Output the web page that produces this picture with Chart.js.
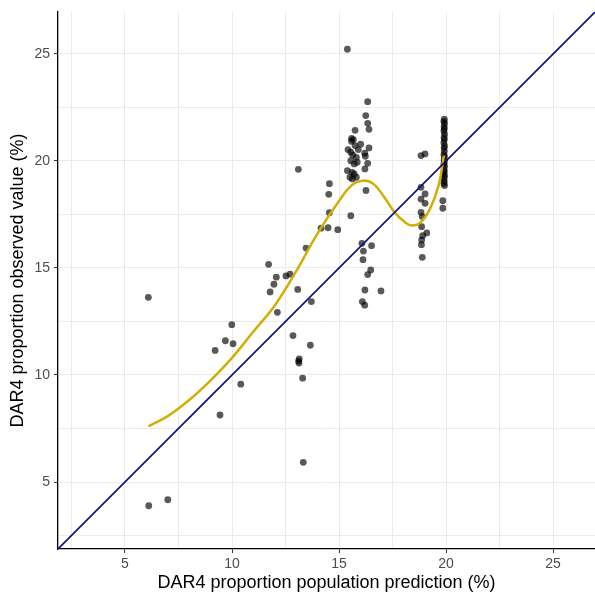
<!DOCTYPE html>
<html>
<head>
<meta charset="utf-8">
<script src="https://cdn.jsdelivr.net/npm/chart.js@4.4.1/dist/chart.umd.min.js"></script>
<style>
  html, body { margin: 0; padding: 0; background: #fff; overflow: hidden; }
  canvas { display: block; }
</style>
</head>
<body>
<canvas id="chart" width="595" height="601"></canvas>
<script>
// Valores: predicción poblacional (x) vs valor observado (y)
const predX = [
  6.09, 6.11, 7.00, 9.21, 9.44, 9.69, 9.99, 10.05, 10.41,
  11.71, 11.78, 11.96, 12.07, 12.12, 12.52, 12.71, 12.85, 13.07, 13.10,
  13.11, 13.13, 13.14, 13.30, 13.33, 13.46, 13.66, 13.71,
  14.16, 14.49, 14.52, 14.55, 14.55, 14.94,
  15.39, 15.39, 15.42, 15.51, 15.55, 15.55, 15.55, 15.58, 15.59, 15.61,
  15.62, 15.64, 15.67, 15.71, 15.71, 15.75, 15.75, 15.81, 15.81, 15.85, 15.90,
  16.01, 16.07, 16.09, 16.12, 16.14, 16.20, 16.20, 16.21, 16.21, 16.23,
  16.25, 16.26, 16.34, 16.34, 16.34, 16.34, 16.40, 16.40, 16.48, 16.52, 16.96,
  18.83, 19.02, 18.83, 19.02, 18.83, 19.02, 18.83, 18.89, 18.86, 19.10,
  18.91, 18.86, 18.85, 18.89,
  19.92, 19.90, 19.93, 19.91, 19.92, 19.90, 19.93, 19.91, 19.92, 19.90,
  19.93, 19.91, 19.92, 19.90, 19.93, 19.91, 19.92, 19.90, 19.93, 19.91,
  19.92, 19.90, 19.93, 19.91, 19.92, 19.90, 19.93, 19.85, 19.85
];
const obsY = [
  13.63, 3.89, 4.17, 11.15, 8.13, 11.60, 12.35, 11.46, 9.57,
  15.17, 13.88, 14.24, 14.57, 12.93, 14.63, 14.71, 11.84, 14.00, 19.61,
  10.65, 10.56, 10.75, 9.85, 5.92, 15.93, 11.39, 13.43,
  16.86, 16.88, 18.44, 18.94, 17.58, 16.79,
  25.22, 19.55, 20.53, 19.24, 20.41, 20.01, 17.44, 20.92, 21.06, 19.47,
  19.16, 20.28, 21.00, 19.86, 19.39, 21.43, 20.72, 20.17, 19.24, 19.94, 20.53,
  20.78, 16.15, 13.43, 15.39, 15.79, 20.36, 13.26, 19.63, 13.97, 20.22,
  22.12, 18.62, 22.77, 21.76, 19.89, 14.69, 21.48, 20.61, 14.91, 16.04, 13.93,
  20.25, 20.33, 18.77, 18.46, 18.22, 18.02, 17.60, 17.40, 16.93, 16.64,
  16.51, 16.31, 16.09, 15.50,
  21.95, 21.85, 21.75, 21.60, 21.50, 21.40, 21.25, 21.10, 21.00, 20.85,
  20.70, 20.60, 20.45, 20.30, 20.20, 20.05, 19.95, 19.85, 19.75, 19.60,
  19.50, 19.40, 19.30, 19.20, 19.05, 18.95, 18.85, 18.14, 17.79
];

// Curva suavizada (loess)
const loessX = [6.1, 7.0, 8.0, 9.0, 10.0, 11.0, 12.0, 13.0, 14.0, 15.0, 15.6, 16.1,
  16.6, 17.1, 17.6, 18.1, 18.4, 18.8, 19.25, 19.65, 19.9];
const loessY = [7.6, 8.08, 8.83, 9.75, 10.8, 12.03, 13.25, 14.85, 16.62, 18.13, 18.87, 19.08,
  18.93, 18.33, 17.6, 17.12, 16.98, 17.12, 17.76, 18.85, 20.25];

// Línea identidad y = x, límites de los ejes y ticks
const axisLimits = [1.87, 26.96];
const tickValues = [2.5, 5, 7.5, 10, 12.5, 15, 17.5, 20, 22.5, 25];
const tickLabels = ['', '5', '', '10', '', '15', '', '20', '', '25'];

const points = predX.map((x, i) => ({ x: x, y: obsY[i] }));
const loess = loessX.map((x, i) => ({ x: x, y: loessY[i] }));
const identity = axisLimits.map(v => ({ x: v, y: v }));

function isMajor(v) { return tickLabels[tickValues.indexOf(v)] !== ''; }

function axis(title, isY) {
  return {
    type: 'linear',
    min: axisLimits[0],
    max: axisLimits[1],
    afterBuildTicks: scale => { scale.ticks = tickValues.map(v => ({ value: v })); },
    afterFit: scale => {
      // anchos fijos para que el área del gráfico coincida con la original
      if (isY) { scale.width = 58; scale.paddingTop = 0; scale.paddingBottom = 0; }
      else { scale.height = 52; scale.paddingLeft = 0; scale.paddingRight = 0; }
    },
    border: { color: '#000', width: 1.3 },
    grid: {
      color: '#ebebeb',
      lineWidth: 1,
      tickLength: 4,
      tickColor: ctx => (ctx.tick && isMajor(ctx.tick.value)) ? '#333' : 'rgba(0,0,0,0)'
    },
    ticks: {
      color: '#4d4d4d',
      font: { family: 'Liberation Sans, Arial, sans-serif', size: 14 },
      padding: isY ? 4 : 3,
      maxRotation: 0,
      autoSkip: false,
      callback: v => { const i = tickValues.indexOf(v); return i >= 0 ? tickLabels[i] : ''; }
    },
    title: {
      display: true,
      text: title,
      color: '#000',
      font: { family: 'Liberation Sans, Arial, sans-serif', size: 18 },
      padding: { top: 7, bottom: 7 }
    }
  };
}

new Chart(document.getElementById('chart').getContext('2d'), {
  type: 'scatter',
  data: {
    datasets: [
      {
        label: 'y = x',
        data: identity,
        showLine: true,
        borderColor: '#0d0d8c',
        borderWidth: 1.6,
        pointRadius: 0
      },
      {
        label: 'loess',
        data: loess,
        showLine: true,
        tension: 0.4,
        borderColor: '#d2ae07',
        borderWidth: 2.5,
        pointRadius: 0
      },
      {
        label: 'observado',
        data: points,
        pointRadius: 3.4,
        pointBackgroundColor: 'rgba(0,0,0,0.65)',
        pointBorderWidth: 0,
        borderColor: 'rgba(0,0,0,0)'
      }
    ]
  },
  options: {
    responsive: false,
    animation: false,
    layout: { autoPadding: false, padding: { top: 12, right: 0, left: 0, bottom: 0 } },
    plugins: { legend: { display: false }, tooltip: { enabled: false } },
    scales: {
      x: axis('DAR4 proportion population prediction (%)', false),
      y: axis('DAR4 proportion observed value (%)', true)
    }
  }
});
</script>
</body>
</html>
